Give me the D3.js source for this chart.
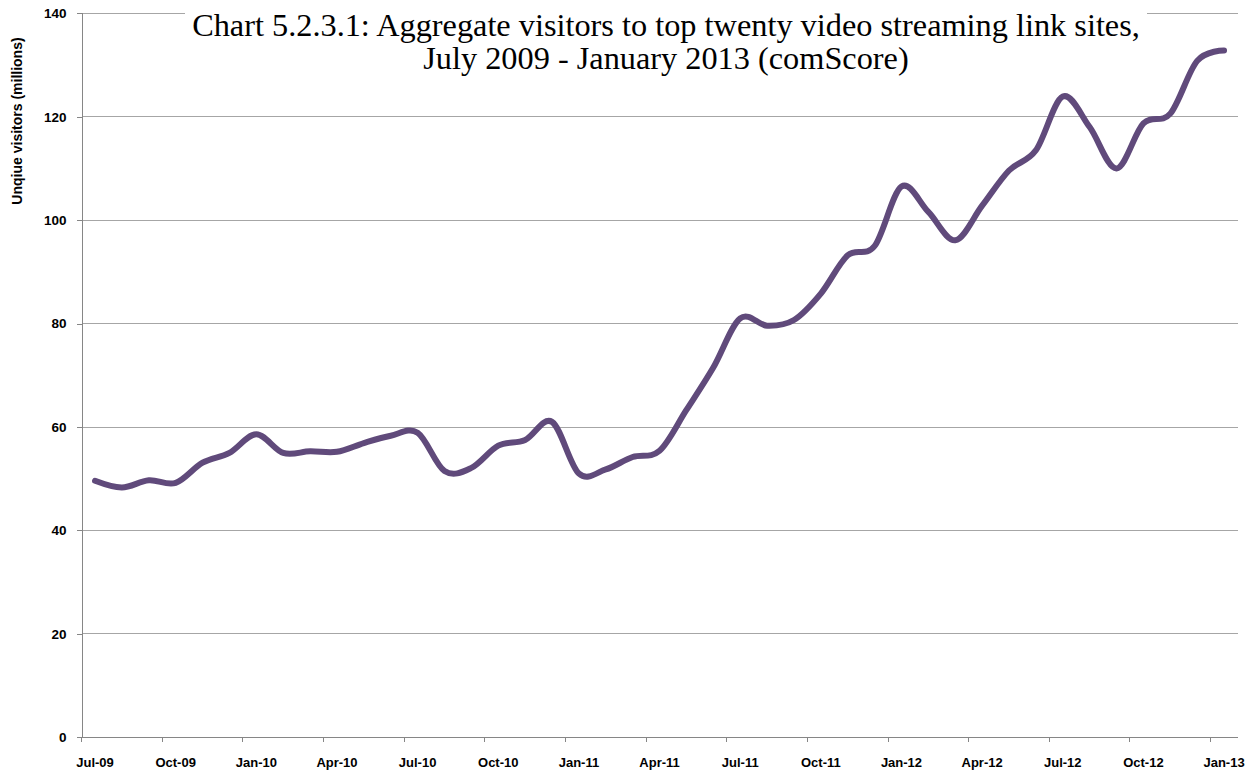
<!DOCTYPE html>
<html>
<head>
<meta charset="utf-8">
<script src="https://cdn.jsdelivr.net/npm/d3@7"></script>
<style>
  html, body { margin: 0; padding: 0; background: #fff; }
  svg { display: block; }
</style>
</head>
<body>
<svg id="chart" width="1255" height="773"></svg>
<script>
const months = ["Jul-09","Aug-09","Sep-09","Oct-09","Nov-09","Dec-09",
  "Jan-10","Feb-10","Mar-10","Apr-10","May-10","Jun-10","Jul-10","Aug-10","Sep-10","Oct-10","Nov-10","Dec-10",
  "Jan-11","Feb-11","Mar-11","Apr-11","May-11","Jun-11","Jul-11","Aug-11","Sep-11","Oct-11","Nov-11","Dec-11",
  "Jan-12","Feb-12","Mar-12","Apr-12","May-12","Jun-12","Jul-12","Aug-12","Sep-12","Oct-12","Nov-12","Dec-12",
  "Jan-13"];
const visitors = [49.6, 48.3, 49.7, 49.2, 53.1, 55.0,
  58.6, 55.0, 55.3, 55.2, 56.9, 58.3, 58.9, 51.5, 52.1, 56.4, 57.5, 61.0,
  51.0, 51.8, 54.2, 55.4, 63.3, 71.5, 81.0, 79.6, 80.7, 85.8, 93.2, 95.0,
  106.5, 101.6, 96.1, 102.8, 109.6, 113.5, 123.9, 118.0, 110.0, 118.7, 120.6, 130.8,
  132.8];
const xTickLabels = ["Jul-09","Oct-09","Jan-10","Apr-10","Jul-10","Oct-10","Jan-11","Apr-11",
  "Jul-11","Oct-11","Jan-12","Apr-12","Jul-12","Oct-12","Jan-13"];
const yTicks = [0, 20, 40, 60, 80, 100, 120, 140];
const titleLines = ["Chart 5.2.3.1: Aggregate visitors to top twenty video streaming link sites,",
  "July 2009 - January 2013 (comScore)"];
const yAxisTitle = "Unqiue visitors (millions)";

(function () {
const svg = d3.select("#chart");
const pLeft = 81.6, pRight = 1237.5, pTop = 13.3, pBottom = 737.3;

const x = d3.scaleBand().domain(months).range([pLeft, pRight]).paddingInner(0).paddingOuter(0);
const y = d3.scaleLinear().domain([0, 140]).range([pBottom, pTop]);

const gridColor = "#a6a6a6";
const axisColor = "#868686";
const labelFont = "'Liberation Sans', Arial, sans-serif";

// gridlines
svg.append("g").selectAll("line").data(yTicks.filter(d => d > 0)).join("line")
  .attr("x1", pLeft).attr("x2", pRight)
  .attr("y1", d => y(d)).attr("y2", d => y(d))
  .attr("stroke", gridColor).attr("stroke-width", 1)
  .attr("shape-rendering", "crispEdges");

// y axis
const yAxis = d3.axisLeft(y).tickValues(yTicks).tickSize(5).tickPadding(10).tickFormat(d3.format("d"));
const gy = svg.append("g").attr("transform", `translate(${pLeft},0)`).call(yAxis);
gy.select(".domain").attr("stroke", axisColor).attr("shape-rendering", "crispEdges");
gy.selectAll(".tick line").attr("stroke", axisColor).attr("shape-rendering", "crispEdges");
gy.selectAll(".tick text").attr("font-family", labelFont).attr("font-weight", "bold")
  .attr("font-size", "13.5px").attr("fill", "#000");

// x axis (ticks between categories, every 3 months)
const xAxis = d3.axisBottom(x).tickValues(xTickLabels).tickSize(0).tickPadding(20);
const gx = svg.append("g").attr("transform", `translate(0,${pBottom})`).call(xAxis);
gx.select(".domain").attr("stroke", axisColor).attr("d", `M${pLeft},0H${pRight}`).attr("shape-rendering", "crispEdges");
gx.selectAll(".tick text").attr("font-family", labelFont).attr("font-weight", "bold")
  .attr("font-size", "13px").attr("fill", "#000");
gx.append("g").selectAll("line").data(xTickLabels).join("line")
  .attr("x1", d => x(d)).attr("x2", d => x(d))
  .attr("y1", 0).attr("y2", 5)
  .attr("stroke", axisColor).attr("shape-rendering", "crispEdges");

// title background and text
svg.append("rect").attr("x", 185).attr("y", 0).attr("width", 962).attr("height", 82).attr("fill", "#fff");
const titleG = svg.append("g").attr("font-family", "'Liberation Serif', 'Times New Roman', serif").attr("fill", "#000");
const t1 = titleG.append("text").attr("x", 666).attr("y", 36).attr("text-anchor", "middle")
  .attr("font-size", "30px").text(titleLines[0]);
const w = t1.node().getComputedTextLength();
const fs = w > 0 ? 30 * 948 / w : 30;
t1.attr("font-size", fs + "px");
titleG.append("text").attr("x", 666).attr("y", 69).attr("text-anchor", "middle")
  .attr("font-size", fs + "px").text(titleLines[1]);

// y axis title
svg.append("text").attr("transform", "translate(22,121) rotate(-90)")
  .attr("text-anchor", "middle").attr("font-family", labelFont).attr("font-weight", "bold")
  .attr("font-size", "14px").attr("fill", "#000").text(yAxisTitle);

// line
const line = d3.line()
  .x((d, i) => x(months[i]) + x.bandwidth() / 2)
  .y(d => y(d))
  .curve(d3.curveCatmullRom.alpha(0));
svg.append("path").datum(visitors)
  .attr("d", line)
  .attr("fill", "none").attr("stroke", "#604a7b").attr("stroke-width", 6)
  .attr("stroke-linecap", "round").attr("stroke-linejoin", "round");
})();
</script>
</body>
</html>
